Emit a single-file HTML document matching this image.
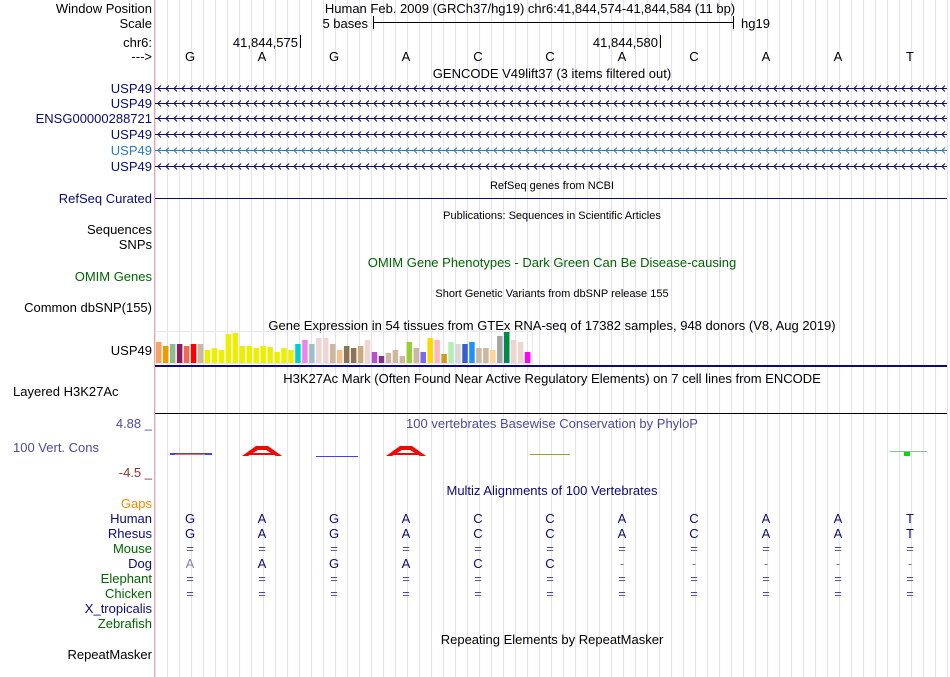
<!DOCTYPE html>
<html><head><meta charset="utf-8"><style>
body{margin:0;background:#fff;}
svg{display:block;font-family:"Liberation Sans",sans-serif;}
</style></head><body>
<svg id="c" width="950" height="677" xmlns="http://www.w3.org/2000/svg">
<g id="grid"></g>
<line x1="154.5" y1="0" x2="154.5" y2="677" stroke="#f4a0a0"/>
<g font-size="13" text-anchor="end" id="labels">
<text x="152" y="13" fill="#000">Window Position</text>
<text x="152" y="28" fill="#000">Scale</text>
<text x="152" y="47" fill="#000">chr6:</text>
<text x="152" y="61" fill="#000">---&gt;</text>
<text x="152" y="93" fill="#0a0a78">USP49</text>
<text x="152" y="108" fill="#0a0a78">USP49</text>
<text x="152" y="123" fill="#0a0a78">ENSG00000288721</text>
<text x="152" y="139" fill="#0a0a78">USP49</text>
<text x="152" y="155" fill="#2a7ac0">USP49</text>
<text x="152" y="171" fill="#0a0a78">USP49</text>
<text x="152" y="203" fill="#0a0a78">RefSeq Curated</text>
<text x="152" y="234" fill="#000">Sequences</text>
<text x="152" y="249" fill="#000">SNPs</text>
<text x="152" y="281" fill="#006400">OMIM Genes</text>
<text x="152" y="312" fill="#000">Common dbSNP(155)</text>
<text x="152" y="355" fill="#000">USP49</text>
<text x="13" y="396" fill="#000" text-anchor="start">Layered H3K27Ac</text>
<text x="152" y="428" fill="#4b4b9b">4.88 _</text>
<text x="13" y="452" fill="#4b4b9b" text-anchor="start">100 Vert. Cons</text>
<text x="152" y="477" fill="#8b3030">-4.5 _</text>
<text x="152" y="508" fill="#f08a00">Gaps</text>
<text x="152" y="523" fill="#0a0a78">Human</text>
<text x="152" y="538" fill="#0a0a78">Rhesus</text>
<text x="152" y="553" fill="#006400">Mouse</text>
<text x="152" y="568" fill="#0a0a78">Dog</text>
<text x="152" y="583" fill="#006400">Elephant</text>
<text x="152" y="598" fill="#006400">Chicken</text>
<text x="152" y="613" fill="#0a0a78">X_tropicalis</text>
<text x="152" y="628" fill="#006400">Zebrafish</text>
<text x="152" y="659" fill="#000">RepeatMasker</text>
</g>
<g font-size="13" text-anchor="middle">
<text x="530" y="13">Human Feb. 2009 (GRCh37/hg19)   chr6:41,844,574-41,844,584 (11 bp)</text>
<text x="552" y="78">GENCODE V49lift37 (3 items filtered out)</text>
<text x="552" y="189" font-size="11">RefSeq genes from NCBI</text>
<text x="552" y="219" font-size="11">Publications: Sequences in Scientific Articles</text>
<text x="552" y="267" fill="#006400">OMIM Gene Phenotypes - Dark Green Can Be Disease-causing</text>
<text x="552" y="297" font-size="11">Short Genetic Variants from dbSNP release 155</text>
<text x="552" y="330">Gene Expression in 54 tissues from GTEx RNA-seq of 17382 samples, 948 donors (V8, Aug 2019)</text>
<text x="552" y="383">H3K27Ac Mark (Often Found Near Active Regulatory Elements) on 7 cell lines from ENCODE</text>
<text x="552" y="428" fill="#4b4b9b">100 vertebrates Basewise Conservation by PhyloP</text>
<text x="552" y="495" fill="#0a0a78">Multiz Alignments of 100 Vertebrates</text>
<text x="552" y="644">Repeating Elements by RepeatMasker</text>
</g>
<g font-size="13">
<text x="368" y="28" text-anchor="end">5 bases</text>
<line x1="373" y1="22.5" x2="733" y2="22.5" stroke="#000"/>
<line x1="373.5" y1="16" x2="373.5" y2="29" stroke="#000"/>
<line x1="733.5" y1="16" x2="733.5" y2="29" stroke="#000"/>
<text x="741" y="28">hg19</text>
<text x="298" y="47" text-anchor="end">41,844,575</text>
<line x1="300.5" y1="35" x2="300.5" y2="48" stroke="#000"/>
<text x="658" y="47" text-anchor="end">41,844,580</text>
<line x1="660.5" y1="35" x2="660.5" y2="48" stroke="#000"/>
</g>
<g id="bases" font-size="13" text-anchor="middle"></g>
<g id="genes"></g>
<line x1="155" y1="198.5" x2="947" y2="198.5" stroke="#0a0a78"/>
<g id="gtex"></g>
<rect x="155" y="365" width="792" height="2" fill="#0a0a78"/>
<line x1="155" y1="413.5" x2="947" y2="413.5" stroke="#000"/>
<g>
<rect x="170" y="453" width="42" height="2" fill="#4040ff"/><rect x="175" y="454" width="30" height="1" fill="#ff6060"/>
<path d="M242 456 L256 446 L268 446 L282 456 L276 456 L266 450 L258 450 L248 456Z" fill="#ff0000"/><rect x="250" y="453" width="24" height="2" fill="#ff0000"/>
<rect x="316" y="456" width="42" height="1" fill="#4040ff"/>
<path d="M386 456 L400 446 L412 446 L426 456 L420 456 L410 450 L402 450 L392 456Z" fill="#ff0000"/><rect x="394" y="453" width="24" height="2" fill="#ff0000"/>
<rect x="530" y="454" width="40" height="1" fill="#a0a020"/>
<rect x="890" y="451" width="37" height="1" fill="#90c090"/><rect x="904" y="452" width="6" height="4" fill="#00dd00"/>
</g>
<g id="align" font-size="13" text-anchor="middle"></g>
<script>
const baseSeq = ["G","A","G","A","C","C","A","C","A","A","T"];
const rhesus = ["G","A","G","A","C","C","A","C","A","A","T"];
const dog = ["A","A","G","A","C","C","-","-","-","-","-"];
const gtexValues = [21,17,19,19,17,19,19,13,15,13,29,30,17,17,15,17,16,11,15,13,19,23,19,25,25,19,13,17,15,17,23,11,7,10,13,7,21,15,11,25,23,9,21,19,19,21,15,15,13,27,31,23,21,11];
const gtexColors = ["#f4a460","#ee9a00","#8fbc8f","#8b1c62","#ee6a50","#ff0000","#cdb79e","#eeee00","#eeee00","#eeee00","#eeee00","#eeee00","#eeee00","#eeee00","#eeee00","#eeee00","#eeee00","#eeee00","#eeee00","#eeee00","#00cdcd","#ee82ee","#9ac0cd","#eed5d2","#eed5d2","#cdb79e","#f5c18a","#8b7355","#8b7355","#cdaa7d","#eed5d2","#b452cd","#7a378b","#cdb79e","#cdb79e","#cdb79e","#9acd32","#cdb79e","#7b68ee","#ffd700","#ffb6c1","#cd9b1d","#b4eeb4","#d9d9d9","#3a5fcd","#1e90ff","#cdb79e","#cdb79e","#ffd39b","#a6a6a6","#008b45","#eed5d2","#eed5d2","#ff00ff"];
const NS="http://www.w3.org/2000/svg";
function mk(tag,attrs,parent){const e=document.createElementNS(NS,tag);for(const k in attrs)e.setAttribute(k,attrs[k]);parent.appendChild(e);return e;}
const x0=155,bw=72;
function baseX(i){return x0+bw*i+bw/2-1;}
const grid=document.getElementById('grid');
for(let x=155;x<=947;x+=12){const l=mk('line',{x1:x+0.5,y1:0,x2:x+0.5,y2:677,stroke:'#e0e0f6'},grid);

}
const bases=document.getElementById('bases');
baseSeq.forEach((b,i)=>{const t=mk('text',{x:baseX(i),y:61},bases);t.textContent=b;

});
const genes=document.getElementById('genes');
[88,103,118,134,150,166].forEach((y,r)=>{const col=r==4?'#2a7ac0':'#0a0a78';
const g=mk('g',{},genes);


mk('line',{x1:155,y1:y+0.5,x2:947,y2:y+0.5,stroke:col},g);
let d='';for(let x=158;x<946;x+=8){d+=`M${x+3} ${y-2.5}L${x} ${y+0.5}L${x+3} ${y+3.5}`;}
mk('path',{d:d,stroke:col,fill:'none','stroke-width':1},g);});
const gtex=document.getElementById('gtex');
const gtexBottom=363,gtexStep=6.96;
mk('rect',{x:155.5,y:331.5,width:377,height:32,fill:'none',stroke:'#e8e8e8'},gtex);
gtexValues.forEach((v,i)=>{const r=mk('rect',{x:156+i*gtexStep,y:gtexBottom-v,width:5.5,height:v,fill:gtexColors[i]},gtex);

});
const align=document.getElementById('align');
const rows=[[523,baseSeq,'#0a0a78'],[538,rhesus,'#0a0a78'],[553,null,'#4b4b9b'],[568,dog,'#0a0a78'],[583,null,'#4b4b9b'],[598,null,'#4b4b9b']];
rows.forEach(([y,arr,col])=>{for(let i=0;i<11;i++){let ch=arr?arr[i]:'=';let c=col;
if(arr===dog&&(i===0||ch==='-'))c='#8080b0';
const t=mk('text',{x:baseX(i),y:y,fill:c},align);t.textContent=ch;

}});
</script>
</svg>
</body></html>
